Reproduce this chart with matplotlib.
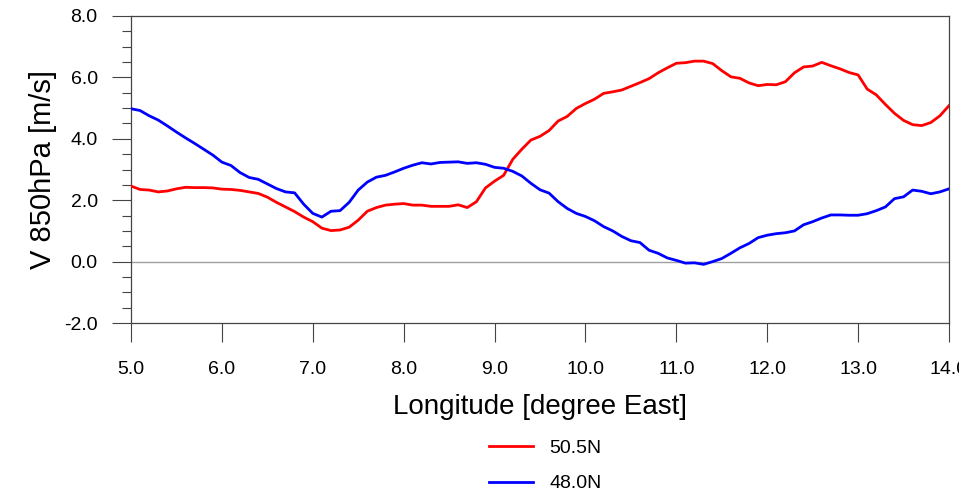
import matplotlib
matplotlib.use("Agg")
import matplotlib.pyplot as plt
from matplotlib.ticker import MultipleLocator, FormatStrFormatter

# longitude grid (degrees East)
lon = [
    5.0, 5.1, 5.2, 5.3, 5.4, 5.5, 5.6, 5.7, 5.8, 5.9,
    6.0, 6.1, 6.2, 6.3, 6.4, 6.5, 6.6, 6.7, 6.8, 6.9,
    7.0, 7.1, 7.2, 7.3, 7.4, 7.5, 7.6, 7.7, 7.8, 7.9,
    8.0, 8.1, 8.2, 8.3, 8.4, 8.5, 8.6, 8.7, 8.8, 8.9,
    9.0, 9.1, 9.2, 9.3, 9.4, 9.5, 9.6, 9.7, 9.8, 9.9,
    10.0, 10.1, 10.2, 10.3, 10.4, 10.5, 10.6, 10.7, 10.8, 10.9,
    11.0, 11.1, 11.2, 11.3, 11.4, 11.5, 11.6, 11.7, 11.8, 11.9,
    12.0, 12.1, 12.2, 12.3, 12.4, 12.5, 12.6, 12.7, 12.8, 12.9,
    13.0, 13.1, 13.2, 13.3, 13.4, 13.5, 13.6, 13.7, 13.8, 13.9,
    14.0,
]

# meridional wind at 850 hPa along 50.5N
v_505n = [
    2.46, 2.35, 2.33, 2.27, 2.30, 2.37, 2.42, 2.41, 2.41, 2.40,
    2.36, 2.35, 2.32, 2.27, 2.22, 2.10, 1.93, 1.78, 1.63, 1.45,
    1.30, 1.09, 1.01, 1.03, 1.12, 1.35, 1.64, 1.76, 1.84, 1.87,
    1.89, 1.84, 1.84, 1.80, 1.80, 1.80, 1.85, 1.76, 1.95, 2.40,
    2.62, 2.81, 3.33, 3.66, 3.96, 4.08, 4.27, 4.58, 4.73, 4.99,
    5.15, 5.29, 5.48, 5.53, 5.59, 5.71, 5.83, 5.96, 6.15, 6.31,
    6.46, 6.48, 6.53, 6.53, 6.45, 6.22, 6.02, 5.97, 5.82, 5.73,
    5.77, 5.76, 5.86, 6.15, 6.34, 6.37, 6.49, 6.38, 6.28, 6.16,
    6.08, 5.62, 5.43, 5.12, 4.83, 4.60, 4.46, 4.43, 4.53, 4.75,
    5.08,
]

# meridional wind at 850 hPa along 48.0N
v_480n = [
    4.98, 4.92, 4.75, 4.61, 4.42, 4.22, 4.03, 3.85, 3.66, 3.47,
    3.24, 3.13, 2.90, 2.74, 2.68, 2.53, 2.38, 2.27, 2.24, 1.87,
    1.57, 1.45, 1.64, 1.66, 1.93, 2.33, 2.59, 2.75, 2.81, 2.92,
    3.04, 3.14, 3.22, 3.18, 3.23, 3.24, 3.25, 3.20, 3.22, 3.17,
    3.07, 3.04, 2.94, 2.79, 2.55, 2.34, 2.23, 1.95, 1.73, 1.57,
    1.47, 1.33, 1.14, 1.00, 0.82, 0.68, 0.62, 0.37, 0.27, 0.12,
    0.04, -0.05, -0.04, -0.09, 0.00, 0.10, 0.27, 0.45, 0.59, 0.78,
    0.86, 0.91, 0.94, 1.00, 1.20, 1.30, 1.42, 1.52, 1.52, 1.51,
    1.51, 1.56, 1.66, 1.78, 2.05, 2.11, 2.33, 2.29, 2.21, 2.27,
    2.37,
]

labels = ["50.5N", "48.0N"]
colors = ["#ff0000", "#0000ff"]

plt.rcParams["font.family"] = ["Liberation Sans", "DejaVu Sans"]

W, H = 959, 495
fig = plt.figure(figsize=(W / 100, H / 100), dpi=100)
ax = fig.add_axes([131 / W, 1 - 323 / H, (949 - 131) / W, (323 - 16) / H])

ax.axhline(0.0, color="#a0a0a0", lw=1.0, zorder=1)
ax.plot(lon, v_505n, color=colors[0], lw=2.0, label=labels[0], zorder=3)
ax.plot(lon, v_480n, color=colors[1], lw=2.0, label=labels[1], zorder=3)

ax.set_xlim(5.0, 14.0)
ax.set_ylim(-2.0, 8.0)

ax.xaxis.set_major_locator(MultipleLocator(1.0))
ax.xaxis.set_major_formatter(FormatStrFormatter("%.1f"))
ax.yaxis.set_major_locator(MultipleLocator(2.0))
ax.yaxis.set_minor_locator(MultipleLocator(0.5))
ax.yaxis.set_major_formatter(FormatStrFormatter("%.1f"))

ax.tick_params(axis="both", which="major", direction="out", length=14,
               width=0.8, color="#444444", labelsize=14, pad=10)
ax.tick_params(axis="x", which="major", pad=13)
ax.tick_params(axis="y", which="minor", direction="out", length=6.5,
               width=0.8, color="#444444")
ax.tick_params(top=False, right=False)

for sp in ax.spines.values():
    sp.set_color("#444444")
    sp.set_linewidth(0.9)

ax.set_xlabel("Longitude [degree East]", fontsize=20, labelpad=12)
ax.set_ylabel("V 850hPa [m/s]", fontsize=21, labelpad=5)

fig.legend(loc="center", bbox_to_anchor=(545 / W, 1 - 466 / H),
           frameon=False, fontsize=14, handlelength=2.3, handletextpad=0.8,
           labelspacing=0.9, borderpad=0, borderaxespad=0)

fig.savefig("out.png", dpi=100)
